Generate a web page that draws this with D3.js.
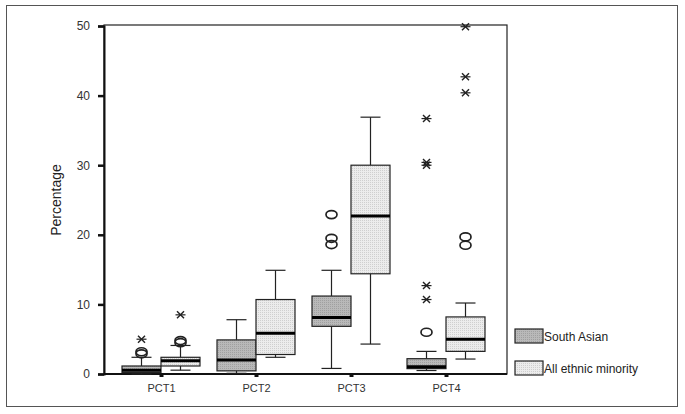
<!DOCTYPE html>
<html>
<head>
<meta charset="utf-8">
<script src="https://cdn.jsdelivr.net/npm/d3@7"></script>
<style>
  body { margin: 0; background: #fff; }
  text { font-family: "Liberation Sans", Arial, sans-serif; }
</style>
</head>
<body>
<div id="chart"></div>
<script>
const categories = ['PCT1', 'PCT2', 'PCT3', 'PCT4']
const seriesNames = ['South Asian', 'All ethnic minority']
const yTicks = [0, 10, 20, 30, 40, 50]

// box stats per category: [whiskerLow, q1, median, q3, whiskerHigh]
const southAsian = [
  [0.0, 0.2, 0.55, 1.15, 2.4],
  [0.1, 0.45, 2.0, 4.9, 7.8],
  [0.8, 6.85, 8.1, 11.2, 14.9],
  [0.5, 0.77, 1.05, 2.2, 3.25]
]
const allMinority = [
  [0.55, 1.15, 1.9, 2.4, 4.1],
  [2.4, 2.8, 5.85, 10.7, 14.9],
  [4.3, 14.4, 22.7, 30.0, 36.9],
  [2.15, 3.25, 5.0, 8.2, 10.2]
]
// outliers (circles) and extremes (stars)
const southAsianOutliers = [[2.9, 3.2], [], [18.6, 19.5, 22.9], [6.0]]
const southAsianExtremes = [[5.0], [], [], [10.7, 12.7, 30.0, 30.4, 36.7]]
const allMinorityOutliers = [[4.5, 4.8], [], [], [18.5, 19.7]]
const allMinorityExtremes = [[8.5], [], [], [40.4, 42.7, 49.9]]

const series = [
  {name: seriesNames[0], stats: southAsian, outliers: southAsianOutliers, extremes: southAsianExtremes, fill: 'url(#dotsDark)'},
  {name: seriesNames[1], stats: allMinority, outliers: allMinorityOutliers, extremes: allMinorityExtremes, fill: 'url(#dotsLight)'}
]

const width = 685, height = 414
const plot = {left: 104, top: 25, right: 507, bottom: 374}

const svg = d3.select('#chart').append('svg')
  .attr('width', width).attr('height', height)

// stipple patterns for box fills
const defs = svg.append('defs')
const addPattern = (id, bg, dot) => {
  const p = defs.append('pattern').attr('id', id)
    .attr('width', 2).attr('height', 2).attr('patternUnits', 'userSpaceOnUse')
  p.append('rect').attr('width', 2).attr('height', 2).attr('fill', bg)
  p.append('rect').attr('width', 1).attr('height', 1).attr('fill', dot)
}
addPattern('dotsDark', '#b9b9b9', '#a0a0a0')
addPattern('dotsLight', '#ececec', '#cfcfcf')

// outer frame
svg.append('rect')
  .attr('x', 6.5).attr('y', 5.5).attr('width', 671).attr('height', 401)
  .attr('fill', 'none').attr('stroke', '#555').attr('stroke-width', 1)

const y = d3.scaleLinear().domain([0, 50]).range([plot.bottom, plot.top + 1])
const x = d3.scalePoint().domain(categories).range([161, 446])
const boxW = 39

// plot frame
svg.append('rect')
  .attr('x', plot.left).attr('y', plot.top)
  .attr('width', plot.right - plot.left).attr('height', plot.bottom - plot.top)
  .attr('fill', 'none').attr('stroke', '#222').attr('stroke-width', 1.2)

// y axis
const yAxis = svg.append('g')
  .attr('transform', 'translate(' + plot.left + ',0)')
  .call(d3.axisLeft(y).tickValues(yTicks).tickSize(6).tickPadding(8))
yAxis.select('.domain').attr('stroke', '#111').attr('stroke-width', 2)
yAxis.selectAll('.tick line').attr('stroke', '#111').attr('stroke-width', 2.5)
yAxis.selectAll('.tick text').attr('font-size', 12).attr('fill', '#333')

svg.append('text')
  .attr('transform', 'translate(61,200) rotate(-90)')
  .attr('text-anchor', 'middle')
  .attr('font-size', 14)
  .attr('fill', '#222')
  .text('Percentage')

// x axis
const xAxis = svg.append('g')
  .attr('transform', 'translate(0,' + plot.bottom + ')')
  .call(d3.axisBottom(x).tickSize(3).tickPadding(7))
xAxis.select('.domain').attr('stroke', '#111').attr('stroke-width', 2)
  .attr('d', 'M' + plot.left + ',0H' + plot.right)
xAxis.selectAll('.tick line').attr('stroke', '#111').attr('stroke-width', 4)
xAxis.selectAll('.tick text').attr('font-size', 11).attr('fill', '#333')

// boxes
const g = svg.append('g')
series.forEach((s, si) => {
  categories.forEach((c, ci) => {
    const [lo, q1, med, q3, hi] = s.stats[ci]
    const x0 = si === 0 ? x(c) - boxW : x(c)
    const cx = x0 + boxW / 2
    const bg = g.append('g')
    // whiskers
    bg.append('line').attr('x1', cx).attr('x2', cx).attr('y1', y(hi)).attr('y2', y(q3))
      .attr('stroke', '#222').attr('stroke-width', 1.2)
    bg.append('line').attr('x1', cx).attr('x2', cx).attr('y1', y(q1)).attr('y2', y(lo))
      .attr('stroke', '#222').attr('stroke-width', 1.2)
    ;[hi, lo].forEach((v) => {
      bg.append('line').attr('x1', cx - 10).attr('x2', cx + 10).attr('y1', y(v)).attr('y2', y(v))
        .attr('stroke', '#222').attr('stroke-width', 1.2)
    })
    bg.append('rect')
      .attr('x', x0).attr('y', y(q3))
      .attr('width', boxW).attr('height', y(q1) - y(q3))
      .attr('fill', s.fill).attr('stroke', '#222').attr('stroke-width', 1.2)
    bg.append('line').attr('x1', x0).attr('x2', x0 + boxW).attr('y1', y(med)).attr('y2', y(med))
      .attr('stroke', '#000').attr('stroke-width', 3)

    // outliers
    s.outliers[ci].forEach((v) => {
      bg.append('ellipse').attr('cx', cx).attr('cy', y(v))
        .attr('rx', 5.5).attr('ry', 4)
        .attr('fill', 'none').attr('stroke', '#222').attr('stroke-width', 1.7)
    })
    // extremes (stars)
    s.extremes[ci].forEach((v) => {
      const sy = y(v)
      const star = bg.append('g').attr('transform', 'translate(' + cx + ',' + sy + ')')
      star.append('line').attr('x1', -5).attr('x2', 5).attr('y1', 0).attr('y2', 0)
        .attr('stroke', '#222').attr('stroke-width', 1.2)
      star.append('line').attr('x1', -3.5).attr('x2', 3.5).attr('y1', -3.5).attr('y2', 3.5)
        .attr('stroke', '#222').attr('stroke-width', 1.4)
      star.append('line').attr('x1', -3.5).attr('x2', 3.5).attr('y1', 3.5).attr('y2', -3.5)
        .attr('stroke', '#222').attr('stroke-width', 1.4)
    })
  })
})

// legend
const legend = svg.append('g').attr('transform', 'translate(515,329)')
series.forEach((s, i) => {
  const lg = legend.append('g').attr('transform', 'translate(0,' + (i * 32) + ')')
  lg.append('rect').attr('width', 28).attr('height', 14)
    .attr('fill', s.fill).attr('stroke', '#222').attr('stroke-width', 1.2)
  lg.append('text').attr('x', 29).attr('y', 12)
    .attr('font-size', 12).attr('fill', '#222')
    .text(s.name)
})
</script>
</body>
</html>
